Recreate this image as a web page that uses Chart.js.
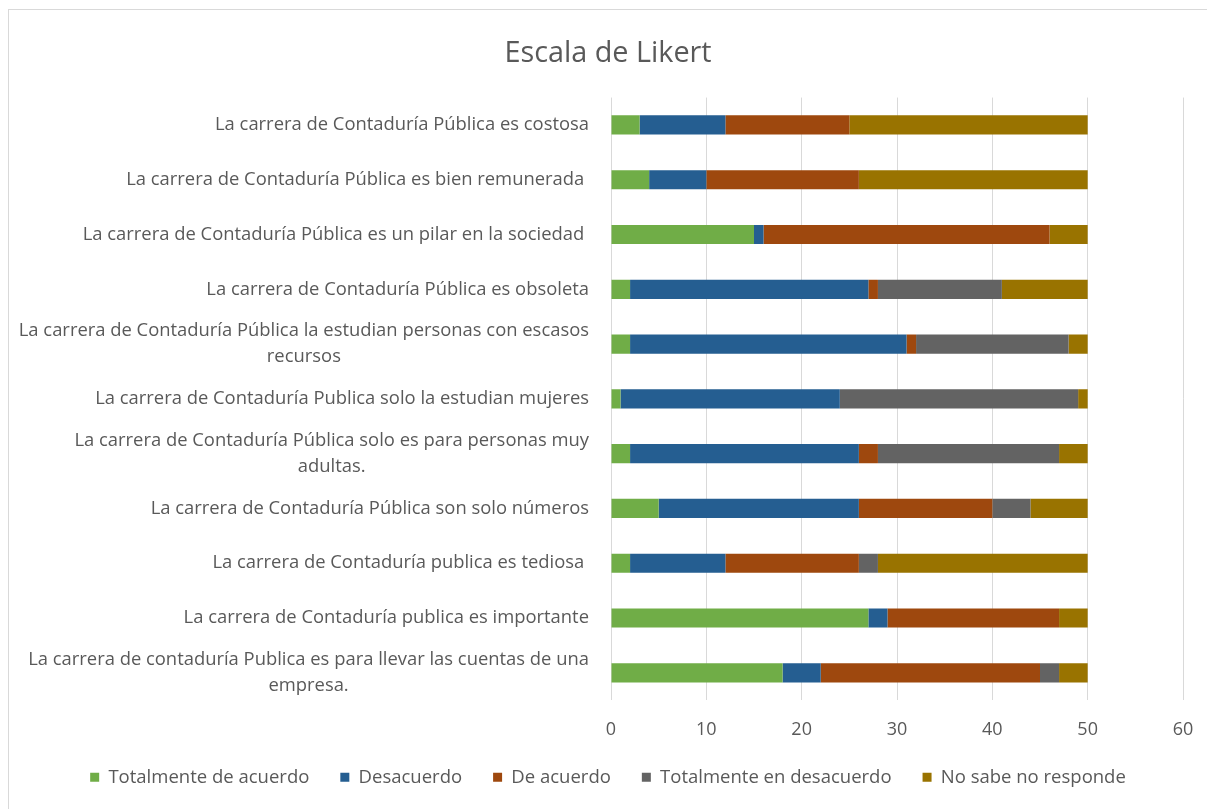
<!DOCTYPE html>
<html>
<head>
<meta charset="utf-8">
<script src="https://cdn.jsdelivr.net/npm/chart.js@4"></script>
<style>
  html, body { margin: 0; padding: 0; background: #fff; overflow: hidden; }
  #frame { position: absolute; left: 8px; top: 9px; width: 1210px; height: 810px; border: 1px solid #d9d9d9; }
  #wrap { position: absolute; left: 0; top: 0; width: 1198px; height: 799px; }
</style>
</head>
<body>
<div id="frame"><div id="wrap"><canvas id="likert-chart"></canvas></div></div>
<script>
var categories = [
  "La carrera de Contaduría Pública es costosa",
  "La carrera de Contaduría Pública es bien remunerada ",
  "La carrera de Contaduría Pública es un pilar en la sociedad ",
  "La carrera de Contaduría Pública es obsoleta",
  ["La carrera de Contaduría Pública la estudian personas con escasos", "recursos"],
  "La carrera de Contaduría Publica solo la estudian mujeres",
  ["La carrera de Contaduría Pública solo es para personas muy", "adultas."],
  "La carrera de Contaduría Pública son solo números",
  "La carrera de Contaduría publica es tediosa ",
  "La carrera de Contaduría publica es importante",
  ["La carrera de contaduría Publica es para llevar las cuentas de una", "empresa."]
];
var totalmenteAcuerdo    = [3, 4, 15, 2, 2, 1, 2, 5, 2, 27, 18];
var desacuerdo           = [9, 6, 1, 25, 29, 23, 24, 21, 10, 2, 4];
var deAcuerdo            = [13, 16, 30, 1, 1, 0, 2, 14, 14, 18, 23];
var totalmenteDesacuerdo = [0, 0, 0, 13, 16, 25, 19, 4, 2, 0, 2];
var noSabe               = [25, 24, 4, 9, 2, 1, 3, 6, 22, 3, 3];
var xTicks = [0, 10, 20, 30, 40, 50, 60];

var font = "'Open Sans', 'Liberation Sans', sans-serif";
var txt = "#595959";

// y labels: block right aligned to the axis, lines centred inside the block (like Excel)
var yLabelPlugin = {
  id: 'yLabels',
  afterLayout: function (chart) {
    // pull the legend up a bit closer to the axis
    chart.legend.top -= 22;
    chart.legend.bottom -= 22;
  },
  afterDraw: function (chart) {
    var c = chart.ctx;
    var scale = chart.scales.y;
    c.save();
    c.font = "18.4px " + font;
    c.fillStyle = txt;
    c.textAlign = 'center';
    c.textBaseline = 'middle';
    chart.data.labels.forEach(function (lab, i) {
      var lines = Array.isArray(lab) ? lab : [lab];
      var w = Math.max.apply(null, lines.map(function (l) { return c.measureText(l).width; }));
      var cx = scale.right - 22 - w / 2;
      var cy = scale.getPixelForTick(i);
      lines.forEach(function (l, j) {
        c.fillText(l, cx, cy + (j - (lines.length - 1) / 2) * 26);
      });
    });
    c.restore();
  }
};

var ctx = document.getElementById("likert-chart");
var myChart = new Chart(ctx, {
  type: 'bar',
  data: {
    labels: categories,
    datasets: [
      { label: "Totalmente de acuerdo", data: totalmenteAcuerdo, backgroundColor: "#70ad47" },
      { label: "Desacuerdo", data: desacuerdo, backgroundColor: "#255e91" },
      { label: "De acuerdo", data: deAcuerdo, backgroundColor: "#9e480e" },
      { label: "Totalmente en desacuerdo", data: totalmenteDesacuerdo, backgroundColor: "#636363" },
      { label: "No sabe no responde", data: noSabe, backgroundColor: "#997300" }
    ]
  },
  plugins: [yLabelPlugin],
  options: {
    indexAxis: 'y',
    responsive: true,
    maintainAspectRatio: false,
    animation: false,
    datasets: { bar: { categoryPercentage: 1, barPercentage: 0.35 } },
    layout: { padding: { left: 0, right: 0, top: 10, bottom: -9.5 } },
    scales: {
      x: {
        stacked: true,
        min: 0,
        max: 60,
        afterBuildTicks: function (axis) { axis.ticks = xTicks.map(function (v) { return { value: v }; }); },
        afterFit: function (axis) { axis.paddingRight = 24; },
        grid: { color: "#d9d9d9", drawTicks: false },
        border: { display: false },
        ticks: { color: txt, padding: 18.6, font: { family: font, size: 18 } }
      },
      y: {
        stacked: true,
        grid: { display: false, drawTicks: false },
        border: { display: false },
        afterFit: function (axis) { axis.width = 602; },
        ticks: { display: false }
      }
    },
    plugins: {
      title: {
        display: true,
        text: "Escala de Likert",
        color: txt,
        font: { family: font, size: 28.8, weight: 'normal' },
        padding: { top: 17, bottom: 26 }
      },
      legend: {
        position: 'bottom',
        labels: { color: txt, boxWidth: 9, boxHeight: 9, padding: 31, font: { family: font, size: 18.5 } }
      },
      tooltip: { enabled: false }
    }
  }
});
</script>
</body>
</html>
